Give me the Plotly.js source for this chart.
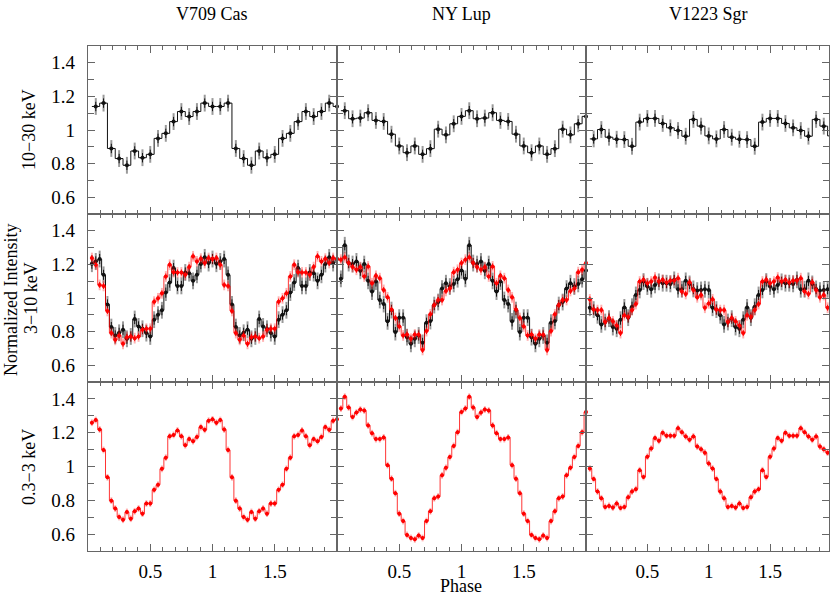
<!DOCTYPE html>
<html><head><meta charset="utf-8">
<script src="https://cdn.plot.ly/plotly-3.0.1.min.js"></script>
<style>body{margin:0;background:#fff;} #chart{width:830px;height:597px;}</style>
</head><body><div id="chart"></div>
<script>
// ---------- data (one phase cycle each; the figure shows two cycles) ----------
const stars = ["V709 Cas", "NY Lup", "V1223 Sgr"];
const bands = ["10\u221230 keV", "3\u221210 keV", "0.3\u22123 keV"];
const xTickVals = [0.5, 1, 1.5];
const xTickText = ["0.5", "1", "1.5"];
const yTickVals = [0.6, 0.8, 1, 1.2, 1.4];
const yTickText = ["0.6", "0.8", "1", "1.2", "1.4"];

// 10-30 keV (16 bins per cycle, black)
const v709Hard  = [1.14, 1.16, 0.89, 0.83, 0.79, 0.875, 0.835, 0.855, 0.95, 0.98, 1.05, 1.11, 1.08, 1.11, 1.16, 1.14];
const nyLupHard = [1.115, 1.067, 1.071, 1.103, 1.057, 1.051, 0.975, 0.905, 0.865, 0.905, 0.855, 0.889, 1.005, 0.971, 1.037, 1.081];
const v1223Hard = [0.947, 1.003, 0.957, 0.945, 0.943, 0.903, 1.047, 1.069, 1.069, 1.039, 1.013, 0.997, 0.963, 1.063, 1.023, 0.965];

// 3-10 keV (32 bins per cycle, black and red)
const v709MidBlack  = [1.204, 1.218, 1.232, 1.138, 0.962, 0.827, 0.777, 0.793, 0.811, 0.757, 0.771, 0.875, 0.831, 0.817, 0.791, 0.771,
                       0.871, 0.901, 0.927, 1.032, 1.092, 1.178, 1.072, 1.072, 1.152, 1.148, 1.102, 1.138, 1.202, 1.242, 1.208, 1.232];
const v709MidRed    = [1.238, 1.198, 1.078, 1.072, 0.923, 0.791, 0.751, 0.777, 0.727, 0.767, 0.771, 0.761, 0.771, 0.811, 0.817, 0.817,
                       0.978, 0.998, 1.028, 1.128, 1.198, 1.154, 1.152, 1.152, 1.138, 1.184, 1.248, 1.218, 1.234, 1.208, 1.238, 1.232];
const nyLupMidBlack = [1.114, 1.314, 1.208, 1.202, 1.218, 1.162, 1.202, 1.102, 1.038, 1.098, 0.988, 0.964, 0.861, 0.928, 0.797, 0.883,
                       0.883, 0.767, 0.727, 0.757, 0.777, 0.733, 0.853, 0.863, 0.958, 0.976, 1.056, 1.088, 1.068, 1.084, 1.112, 1.164];
const nyLupMidRed   = [1.228, 1.242, 1.208, 1.184, 1.168, 1.184, 1.128, 1.188, 1.088, 1.132, 1.118, 1.048, 1.004, 0.931, 0.881, 0.831,
                       0.777, 0.783, 0.757, 0.783, 0.781, 0.691, 0.803, 0.903, 0.958, 0.988, 0.988, 1.042, 1.056, 1.154, 1.168, 1.208];
const v1223MidBlack = [0.942, 0.931, 0.897, 0.843, 0.857, 0.877, 0.827, 0.817, 0.871, 0.944, 0.883, 0.948, 1.018, 1.048, 1.098, 1.068,
                       1.052, 1.078, 1.096, 1.088, 1.088, 1.084, 1.108, 1.052, 1.052, 1.102, 1.084, 1.054, 1.044, 1.048, 1.052, 1.048];
const v1223MidRed   = [0.992, 0.931, 0.928, 0.928, 0.857, 0.881, 0.861, 0.837, 0.791, 0.897, 0.887, 0.928, 0.964, 1.098, 1.108, 1.088,
                       1.098, 1.122, 1.098, 1.108, 1.092, 1.104, 1.104, 1.118, 1.038, 1.024, 1.094, 1.048, 1.004, 1.018, 0.942, 0.968];

// 0.3-3 keV (32 bins per cycle, red)
const v709Soft  = [1.259, 1.275, 1.219, 1.098, 0.936, 0.798, 0.751, 0.701, 0.685, 0.731, 0.691, 0.735, 0.751, 0.721, 0.781, 0.781,
                   0.862, 0.892, 0.986, 1.052, 1.179, 1.187, 1.213, 1.179, 1.126, 1.162, 1.150, 1.175, 1.233, 1.217, 1.271, 1.279];
const nyLupSoft = [1.343, 1.413, 1.349, 1.293, 1.319, 1.337, 1.331, 1.243, 1.197, 1.162, 1.162, 1.172, 1.008, 0.928, 0.842, 0.721,
                   0.677, 0.595, 0.577, 0.569, 0.591, 0.577, 0.677, 0.735, 0.812, 0.822, 0.948, 0.992, 1.056, 1.122, 1.203, 1.323];
const v1223Soft = [0.988, 0.926, 0.852, 0.812, 0.761, 0.767, 0.757, 0.781, 0.755, 0.761, 0.818, 0.852, 0.866, 0.978, 0.938, 1.058,
                   1.106, 1.168, 1.152, 1.199, 1.182, 1.182, 1.182, 1.227, 1.203, 1.178, 1.158, 1.178, 1.118, 1.102, 1.082, 1.018];

// typical 1-sigma errors per band / instrument
const errHardInner = 0.028, errHardOuter = 0.05;
const errMidBlackInner = 0.03, errMidBlackOuter = 0.05;
const errMidRedInner = 0.018, errMidRedOuter = 0.032;
const errSoftInner = 0.012, errSoftOuter = 0.02;

const panels = [
  [ [v709Hard, 'k'], [nyLupHard, 'k'], [v1223Hard, 'k'] ],
  [ [v709MidBlack, 'k', v709MidRed], [nyLupMidBlack, 'k', nyLupMidRed], [v1223MidBlack, 'k', v1223MidRed] ],
  [ [null, 'r', v709Soft], [null, 'r', nyLupSoft], [null, 'r', v1223Soft] ]
];

// ---------- layout geometry (pixels) ----------
const W = 830, H = 597;
const colPx = [[88, 337], [337, 586], [586, 829]];
const rowPx = [[46, 214], [214, 382], [382, 551]];
const colRange = [[0, 2], [0, 2], [0, 1.98]];
const FONT = "Liberation Serif";

const traces = [];
const layout = {
  width: W, height: H, margin: {l: 0, r: 0, t: 0, b: 0},
  paper_bgcolor: '#fff', plot_bgcolor: '#fff', showlegend: false,
  font: {family: FONT, size: 18, color: '#000'},
  annotations: []
};

function addSeries(xa, ya, vals, color, faint, eIn, eOut, lw) {
  const n = vals.length, w = 1 / n;
  const xs = [], ys = [];
  for (let c = 0; c < 2; c++) for (let i = 0; i < n; i++) { xs.push((c * n + i + 1) * w); ys.push(vals[i]); }
  const lx = [xs[0] - w / 2].concat(xs, [xs[xs.length - 1] + w / 2]);
  const ly = [ys[0]].concat(ys, [ys[ys.length - 1]]);
  traces.push({x: xs, y: ys, xaxis: xa, yaxis: ya, type: 'scatter', mode: 'markers', cliponaxis: false,
    marker: {color: 'rgba(0,0,0,0)', size: 1},
    error_y: {type: 'constant', value: eOut, color: faint, thickness: 2, width: 0}, hoverinfo: 'skip'});
  traces.push({x: lx, y: ly, xaxis: xa, yaxis: ya, type: 'scatter', mode: 'lines',
    line: {shape: 'hvh', color: color, width: lw}, hoverinfo: 'skip'});
  traces.push({x: xs, y: ys, xaxis: xa, yaxis: ya, type: 'scatter', mode: 'markers', cliponaxis: false,
    marker: {color: color, size: 4, line: {width: 0}},
    error_y: {type: 'constant', value: eIn, color: color, thickness: 1, width: 0},
    error_x: {type: 'constant', value: w * 0.3, color: color, thickness: 1.2, width: 0}, hoverinfo: 'skip'});
}

for (let r = 0; r < 3; r++) {
  for (let c = 0; c < 3; c++) {
    const idx = r * 3 + c + 1;
    const xa = 'x' + (idx === 1 ? '' : idx), ya = 'y' + (idx === 1 ? '' : idx);
    const xk = 'xaxis' + (idx === 1 ? '' : idx), yk = 'yaxis' + (idx === 1 ? '' : idx);
    layout[xk] = {
      domain: [colPx[c][0] / W, colPx[c][1] / W], range: colRange[c], anchor: ya,
      showline: true, linecolor: '#666', linewidth: 1.3, mirror: 'allticks',
      ticks: 'inside', ticklen: 7, tickwidth: 1, tickcolor: '#666',
      tickvals: xTickVals, ticktext: xTickText, showticklabels: r === 2,
      ticklabelstandoff: 3,
      minor: {dtick: 0.1, ticks: 'inside', ticklen: 4, tickcolor: '#666', showgrid: false},
      showgrid: false, zeroline: false, fixedrange: true,
      tickfont: {family: FONT, size: 19, color: '#000'}
    };
    layout[yk] = {
      domain: [1 - rowPx[r][1] / H, 1 - rowPx[r][0] / H], range: [0.5, 1.5], anchor: xa,
      showline: true, linecolor: '#666', linewidth: 1.3, mirror: 'allticks',
      ticks: 'inside', ticklen: 7, tickwidth: 1, tickcolor: '#666',
      tickvals: yTickVals, ticktext: yTickText, showticklabels: c === 0,
      ticklabelstandoff: 8,
      minor: {dtick: 0.1, ticks: 'inside', ticklen: 6, tickcolor: '#666', showgrid: false},
      showgrid: false, zeroline: false, fixedrange: true,
      tickfont: {family: FONT, size: 19, color: '#000'}
    };
    const p = panels[r][c];
    if (p[0]) addSeries(xa, ya, p[0], '#111', '#9a9a9a',
        r === 0 ? errHardInner : errMidBlackInner, r === 0 ? errHardOuter : errMidBlackOuter, 1);
    if (p[2]) addSeries(xa, ya, p[2], '#ff0000', 'rgba(255,0,0,0.3)',
        r === 1 ? errMidRedInner : errSoftInner, r === 1 ? errMidRedOuter : errSoftOuter, 0.8);
  }
}

// column titles
const titleX = [212, 461, 708];
stars.forEach((s, i) => layout.annotations.push({text: s, x: titleX[i] / W, y: 1 - 14 / H, xref: 'paper', yref: 'paper',
  showarrow: false, xanchor: 'center', yanchor: 'middle', font: {family: FONT, size: 18, color: '#000'}}));
// band labels
const bandY = [130, 298, 467];
bands.forEach((b, i) => layout.annotations.push({text: b, x: (i === 1 ? 31 : 29) / W, y: 1 - bandY[i] / H, xref: 'paper', yref: 'paper',
  showarrow: false, textangle: -90, xanchor: 'center', yanchor: 'middle', font: {family: FONT, size: 18, color: '#000'}}));
layout.annotations.push({text: 'Normalized Intensity', x: 11 / W, y: 1 - 300 / H, xref: 'paper', yref: 'paper',
  showarrow: false, textangle: -90, xanchor: 'center', yanchor: 'middle', font: {family: FONT, size: 18, color: '#000'}});
layout.annotations.push({text: 'Phase', x: 461 / W, y: 0, xref: 'paper', yref: 'paper',
  showarrow: false, xanchor: 'center', yanchor: 'bottom', borderpad: 0, font: {family: FONT, size: 18, color: '#000'}});

Plotly.newPlot('chart', traces, layout, {staticPlot: true, displayModeBar: false});
</script>
</body></html>
